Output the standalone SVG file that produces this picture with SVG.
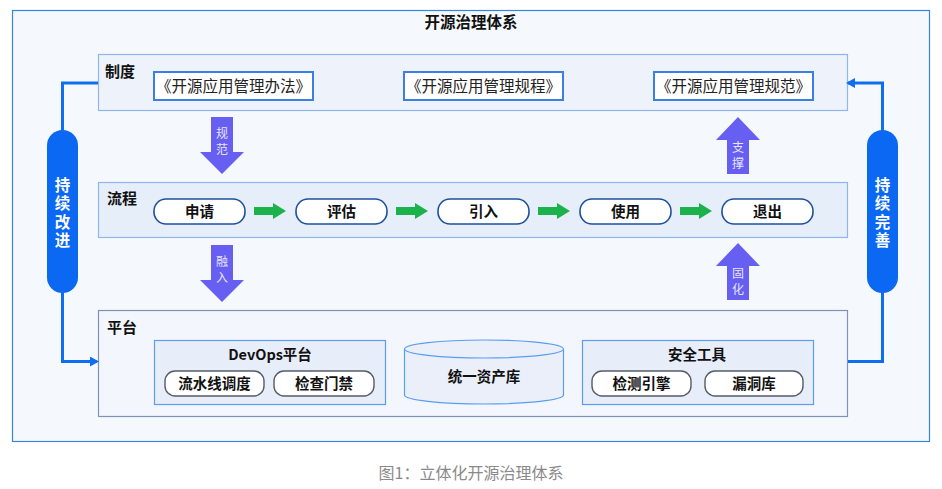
<svg xmlns="http://www.w3.org/2000/svg" width="942" height="489" viewBox="0 0 942 489">
<defs>
<style>
.t{font-family:"Noto Sans CJK SC","Liberation Sans",sans-serif;}
.b{font-weight:bold;}
.v{writing-mode:vertical-rl;text-anchor:middle;}
.layer{stroke-width:1.2;}
.doc{fill:#ffffff;stroke:#3a7ee6;stroke-width:2;}
.step{fill:#ffffff;stroke:#1e4f9e;stroke-width:1.6;}
.tool{fill:#ffffff;stroke:#555c66;stroke-width:1.4;}
.sub{fill:#e8edfa;stroke:#5b9ef0;stroke-width:1.2;}
.loopline{fill:none;stroke:#0f6ef0;stroke-width:3;}
.loop{fill:#0a68f2;}
.purple{fill:#675ef2;}
.green{fill:#1cb24b;}
.lbl{font-size:12px;fill:#e6e6ff;letter-spacing:4px;}
.vl{font-size:15.5px;fill:#ffffff;letter-spacing:3px;}
</style>
<marker id="ah" markerWidth="10" markerHeight="10" refX="7" refY="5" orient="auto" markerUnits="userSpaceOnUse">
<path d="M0,0 L9,5 L0,10 Z" fill="#0f6ef0"/>
</marker>
</defs>
<rect x="0" y="0" width="942" height="489" fill="#ffffff"/>
<g id="frame">
<rect x="12.5" y="10.5" width="917" height="431" fill="#f5f9fe" stroke="#3388dd" stroke-width="1.2"/>
<text class="t b" x="471" y="28" font-size="15.5" text-anchor="middle" fill="#111">开源治理体系</text>
</g>
<g id="zhidu">
<rect class="layer" x="98.5" y="54.5" width="749" height="56" fill="#eef2fb" stroke="#8fb6ea"/>
<text class="t b" x="105" y="77" font-size="15" fill="#111">制度</text>
</g>
<g id="doc1"><rect class="doc" x="154" y="72" width="159" height="28"/><text class="t" x="233.5" y="92" font-size="15.5" text-anchor="middle" fill="#222">《开源应用管理办法》</text></g>
<g id="doc2"><rect class="doc" x="404" y="72" width="159" height="28"/><text class="t" x="483.5" y="92" font-size="15.5" text-anchor="middle" fill="#222">《开源应用管理规程》</text></g>
<g id="doc3"><rect class="doc" x="654" y="72" width="159" height="28"/><text class="t" x="733.5" y="92" font-size="15.5" text-anchor="middle" fill="#222">《开源应用管理规范》</text></g>

<g id="liucheng">
<rect class="layer" x="98.5" y="182.5" width="749" height="55" fill="#e6eef9" stroke="#8fb6ea"/>
<text class="t b" x="107" y="204" font-size="15" fill="#111">流程</text>
</g>
<g id="s1"><rect class="step" x="154" y="199" width="91" height="25" rx="12"/><text class="t b" x="199.5" y="217" font-size="14.5" text-anchor="middle" fill="#111">申请</text></g>
<g id="s2"><rect class="step" x="296" y="199" width="91" height="25" rx="12"/><text class="t b" x="341.5" y="217" font-size="14.5" text-anchor="middle" fill="#111">评估</text></g>
<g id="s3"><rect class="step" x="438" y="199" width="91" height="25" rx="12"/><text class="t b" x="483.5" y="217" font-size="14.5" text-anchor="middle" fill="#111">引入</text></g>
<g id="s4"><rect class="step" x="580" y="199" width="91" height="25" rx="12"/><text class="t b" x="625.5" y="217" font-size="14.5" text-anchor="middle" fill="#111">使用</text></g>
<g id="s5"><rect class="step" x="722" y="199" width="91" height="25" rx="12"/><text class="t b" x="767.5" y="217" font-size="14.5" text-anchor="middle" fill="#111">退出</text></g>

<g id="pingtai">
<rect class="layer" x="98.5" y="310.5" width="749" height="106" fill="#f3f6fc" stroke="#7f93b6"/>
<text class="t b" x="107" y="333" font-size="15" fill="#111">平台</text>
</g>
<g id="devops">
<rect class="sub" x="154.5" y="340.5" width="231" height="64"/>
<text class="t b" x="270" y="360" font-size="14.5" text-anchor="middle" fill="#111">DevOps平台</text>
<rect class="tool" x="165" y="371" width="99" height="25" rx="10"/>
<text class="t b" x="214.5" y="389" font-size="14.5" text-anchor="middle" fill="#111">流水线调度</text>
<rect class="tool" x="274" y="371" width="100" height="25" rx="10"/>
<text class="t b" x="324" y="389" font-size="14.5" text-anchor="middle" fill="#111">检查门禁</text>
</g>
<g id="asset">
<path d="M404.5,349 L404.5,395 A79.5,9 0 0 0 563.5,395 L563.5,349" fill="#eaeffa" stroke="#5b9ef0" stroke-width="1.2"/>
<ellipse cx="484" cy="349" rx="79.5" ry="9" fill="#eaeffa" stroke="#5b9ef0" stroke-width="1.2"/>
<text class="t b" x="484" y="382" font-size="14.5" text-anchor="middle" fill="#111">统一资产库</text>
</g>
<g id="security">
<rect class="sub" x="582.5" y="340.5" width="231" height="64"/>
<text class="t b" x="697" y="360" font-size="14.5" text-anchor="middle" fill="#111">安全工具</text>
<rect class="tool" x="592" y="371" width="99" height="25" rx="10"/>
<text class="t b" x="641.5" y="389" font-size="14.5" text-anchor="middle" fill="#111">检测引擎</text>
<rect class="tool" x="705" y="371" width="98" height="25" rx="10"/>
<text class="t b" x="754" y="389" font-size="14.5" text-anchor="middle" fill="#111">漏洞库</text>
</g>

<g id="improve">
<rect class="loop" x="47" y="130" width="31" height="163" rx="15.5"/>
<text class="t b v vl" x="62.5" y="214">持续改进</text>
</g>
<g id="perfect">
<rect class="loop" x="867" y="130" width="31" height="163" rx="15.5"/>
<text class="t b v vl" x="882.5" y="214">持续完善</text>
</g>

<g id="connectors">
<path class="loopline" d="M62.5,132 L62.5,83 L98,83"/>
<path class="loopline" d="M62.5,290 L62.5,361.5 L97,361.5" marker-end="url(#ah)"/>
<path class="loopline" d="M882.5,132 L882.5,83 L848,83" marker-end="url(#ah)"/>
<path class="loopline" d="M882.5,290 L882.5,361.5 L848,361.5"/>
<path class="green" d="M254,207 L273,207 L273,203 L286,211 L273,219 L273,215 L254,215 Z"/>
<path class="green" d="M396,207 L415,207 L415,203 L428,211 L415,219 L415,215 L396,215 Z"/>
<path class="green" d="M538,207 L557,207 L557,203 L570,211 L557,219 L557,215 L538,215 Z"/>
<path class="green" d="M680,207 L699,207 L699,203 L712,211 L699,219 L699,215 L680,215 Z"/>
<g id="guifan">
<path class="purple" d="M211,117 L233,117 L233,152 L244,152 L222,174 L200,152 L211,152 Z"/>
<text class="t v lbl" x="222" y="143">规范</text>
</g>
<g id="rongru">
<path class="purple" d="M211,245 L233,245 L233,280 L244,280 L222,302 L200,280 L211,280 Z"/>
<text class="t v lbl" x="222" y="271">融入</text>
</g>
<g id="zhicheng">
<path class="purple" d="M738,117 L760,140 L749,140 L749,174 L727,174 L727,140 L716,140 Z"/>
<text class="t v lbl" x="738" y="157">支撑</text>
</g>
<g id="guhua">
<path class="purple" d="M738,243 L760,266 L749,266 L749,300 L727,300 L727,266 L716,266 Z"/>
<text class="t v lbl" x="738" y="283">固化</text>
</g>
</g>
<text class="t" x="471" y="479" font-size="16" text-anchor="middle" fill="#8a8a8a">图1：立体化开源治理体系</text>
</svg>
